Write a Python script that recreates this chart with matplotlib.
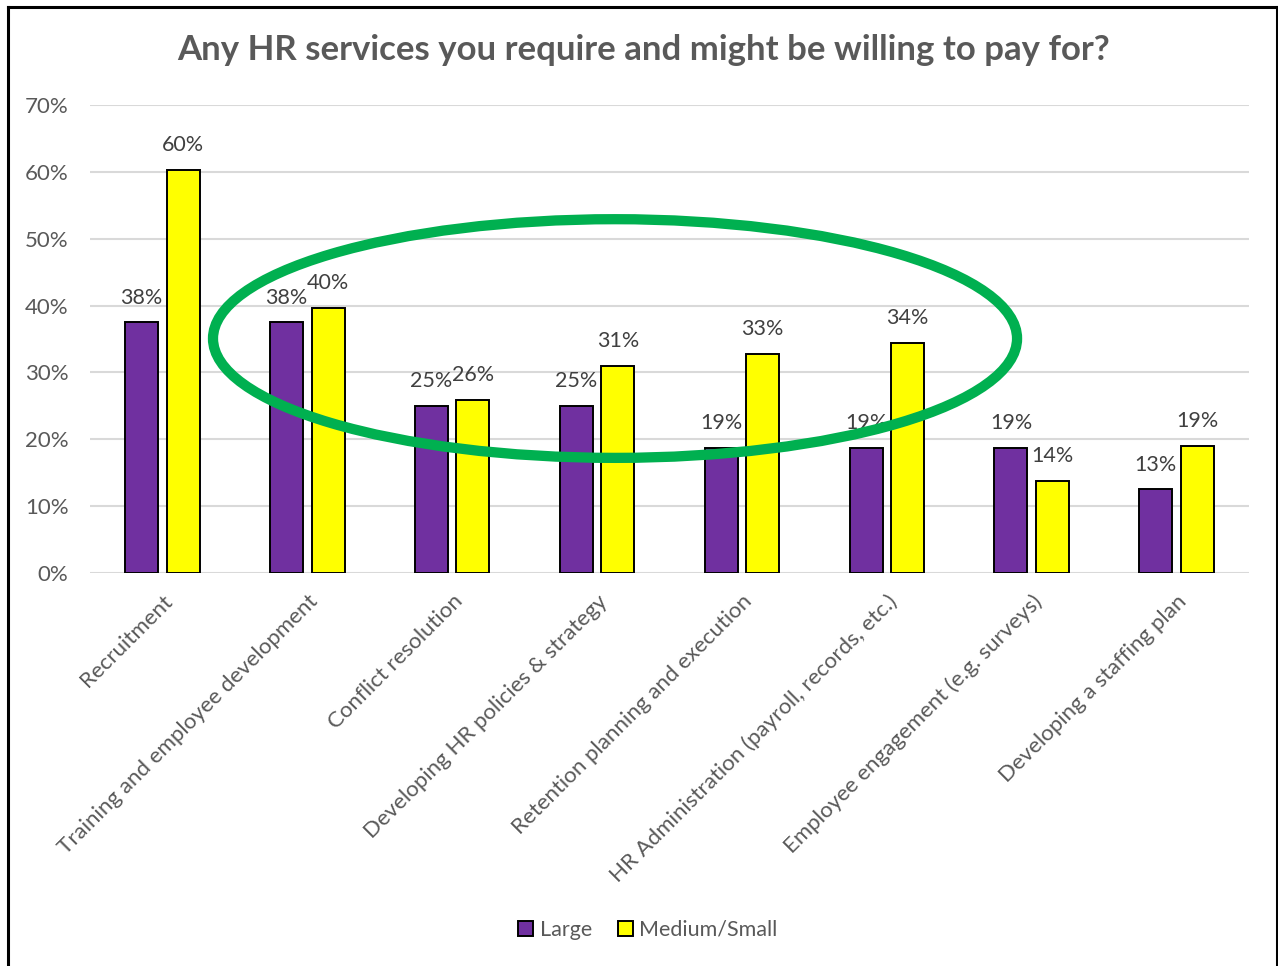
import matplotlib
matplotlib.use("Agg")
import matplotlib.pyplot as plt
from matplotlib.patches import Ellipse, Patch
from matplotlib.lines import Line2D
import numpy as np

plt.rcParams['font.family'] = ['Lato', 'DejaVu Sans']

# Survey results: share of respondents per HR service
categories = [
    "Recruitment",
    "Training and employee development",
    "Conflict resolution",
    "Developing HR policies & strategy",
    "Retention planning and execution",
    "HR Administration (payroll, records, etc.)",
    "Employee engagement (e.g. surveys)",
    "Developing a staffing plan",
]
large = [0.375, 0.375, 0.25, 0.25, 0.1875, 0.1875, 0.1875, 0.125]
medium_small = [0.603, 0.397, 0.259, 0.310, 0.328, 0.344, 0.138, 0.190]
series_names = ["Large", "Medium/Small"]
y_ticks = [0.0, 0.1, 0.2, 0.3, 0.4, 0.5, 0.6, 0.7]

PURPLE = "#7030A0"
YELLOW = "#FFFF00"
GREEN = "#00B050"
TEXT = "#595959"
LABEL = "#404040"
GRID = "#D9D9D9"

W, H = 1278, 966
fig = plt.figure(figsize=(W / 100, H / 100), dpi=100)
ax = fig.add_axes([90 / W, 1 - 573 / H, (1249 - 90) / W, (573 - 105) / H])

x = np.arange(len(categories))
bw = 0.228
off = 0.143

bars_l = ax.bar(x - off, large, bw, color=PURPLE, edgecolor="black",
                linewidth=1.4, zorder=3, label=series_names[0])
bars_m = ax.bar(x + off, medium_small, bw, color=YELLOW, edgecolor="black",
                linewidth=1.4, zorder=3, label=series_names[1])


def pct(v):
    return f"{int(np.floor(v * 100 + 0.5))}%"


for bars, vals in ((bars_l, large), (bars_m, medium_small)):
    for b, v in zip(bars, vals):
        ax.annotate(pct(v), (b.get_x() + b.get_width() / 2, v),
                    xytext=(0, 10.5), textcoords="offset points",
                    ha="center", va="bottom", fontsize=15.5, color=LABEL,
                    zorder=4)

ax.set_xlim(-0.5, len(categories) - 0.5)
ax.set_ylim(0, 0.70)
ax.set_yticks(y_ticks)
ax.set_yticklabels([f"{int(round(t * 100))}%" for t in y_ticks],
                   fontsize=16, color=TEXT)
ax.tick_params(axis="y", length=0, pad=15.5)
ax.set_xticks(x)
ax.set_xticklabels(categories, rotation=45, ha="right", va="top",
                   rotation_mode="anchor", fontsize=16, color=TEXT)
ax.tick_params(axis="x", length=0, pad=13)

ax.yaxis.grid(True, color=GRID, linewidth=1.5, zorder=0)
ax.set_axisbelow(True)
for s in ax.spines.values():
    s.set_visible(False)

# Highlight ring around the middle service groups
ring = Ellipse((3.124, 0.3507), 5.55, 0.357, fill=False,
               edgecolor=GREEN, linewidth=7.4, zorder=6, clip_on=False)
ax.add_patch(ring)

fig.text(644 / W, 1 - 50 / H,
         "Any HR services you require and might be willing to pay for?",
         ha="center", va="center", fontsize=25, fontweight="bold",
         color=TEXT)

handles = [Patch(facecolor=PURPLE, edgecolor="black", linewidth=1.4),
           Patch(facecolor=YELLOW, edgecolor="black", linewidth=1.4)]
fig.legend(handles, series_names, loc="center", ncol=2,
           bbox_to_anchor=(648 / W, 1 - 930 / H), frameon=False,
           fontsize=15.5, labelcolor=TEXT, handlelength=0.7,
           handleheight=0.7, handletextpad=0.3, columnspacing=1.2)

# Frame around the chart
lw = 2.2
fig.add_artist(Line2D([8 / W, 8 / W], [0, 1 - 7 / H], color="black",
                      lw=lw, transform=fig.transFigure))
fig.add_artist(Line2D([8 / W, 1276.5 / W], [1 - 7 / H, 1 - 7 / H],
                      color="black", lw=lw, transform=fig.transFigure))
fig.add_artist(Line2D([1276.5 / W, 1276.5 / W], [0, 1 - 7 / H],
                      color="black", lw=lw, transform=fig.transFigure))

fig.savefig("out.png", dpi=100, facecolor="white")
